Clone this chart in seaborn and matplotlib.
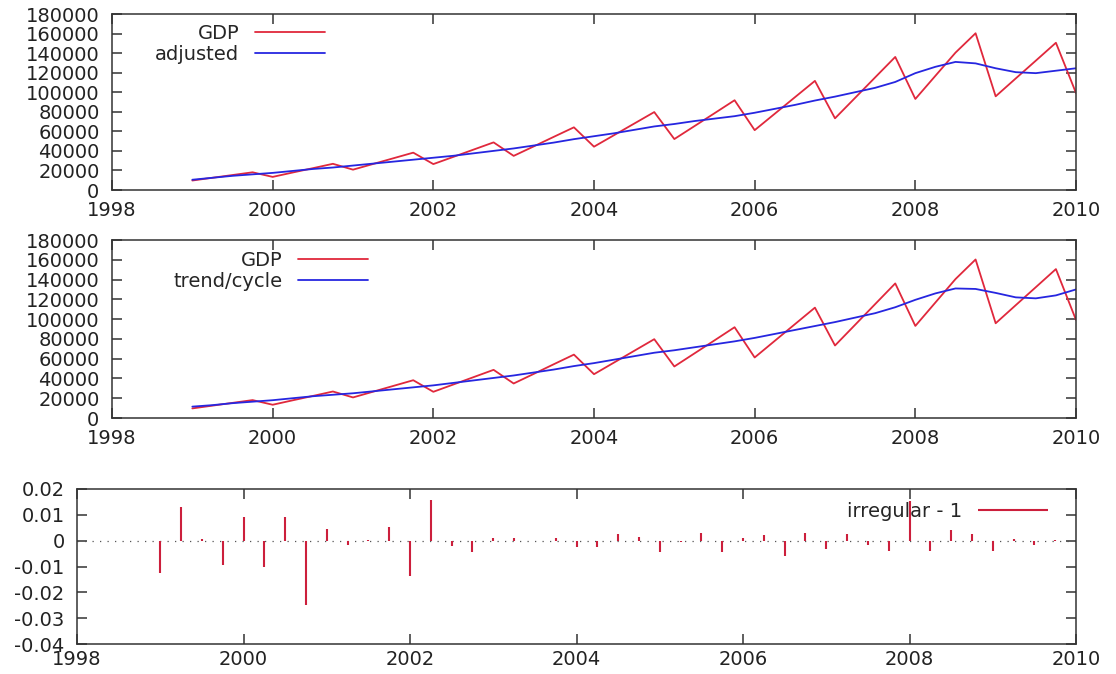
import numpy as np
import pandas as pd
import matplotlib
matplotlib.use("Agg")
import matplotlib.pyplot as plt
import seaborn as sns

# quarterly data, 1999Q1 .. 2010Q1
start_year = 1999

gdp = [9700, 12500, 15300, 18100,
       13400, 17900, 22300, 26800,
       20800, 26600, 32400, 38200,
       26500, 33900, 41300, 48700,
       34900, 44600, 54400, 64100,
       44300, 56100, 67900, 79700,
       52100, 65300, 78500, 91800,
       61200, 78000, 94800, 111600,
       73300, 94200, 115200, 136100,
       93100, 116800, 140500, 160300,
       95800, 114100, 132300, 150600,
       99200]

adjusted = [10500, 12500, 14500, 16000,
            17500, 19500, 21500, 23000,
            25000, 27000, 29000, 31000,
            33000, 35000, 37500, 40000,
            42500, 45500, 48500, 52000,
            55000, 58000, 61500, 65000,
            67500, 70500, 73000, 75500,
            79000, 83000, 87000, 91500,
            95500, 100000, 104500, 110500,
            119500, 126000, 131000, 129500,
            124500, 120500, 119500, 122000,
            124500]

trend = [11500, 13000, 15000, 16500,
         18000, 20000, 22000, 23500,
         25000, 27000, 29000, 31000,
         33000, 35500, 38000, 40500,
         43000, 46000, 49000, 52500,
         55500, 59000, 62500, 66000,
         68500, 71500, 74500, 77500,
         81000, 85000, 89000, 93000,
         97000, 101500, 106000, 112000,
         119500, 126000, 131000, 130500,
         126500, 122000, 121000, 124000,
         130000]

irregular = [-0.0125, 0.0129, 0.0006, -0.0093,
             0.0091, -0.0100, 0.0091, -0.0248,
             0.0047, -0.0016, 0.0003, 0.0052,
             -0.0136, 0.0157, -0.0021, -0.0043,
             0.0010, 0.0010, -0.0003, 0.0010,
             -0.0026, -0.0026, 0.0026, 0.0016,
             -0.0043, -0.0005, 0.0031, -0.0043,
             0.0009, 0.0022, -0.0058, 0.0031,
             -0.0034, 0.0026, -0.0018, -0.0040,
             0.0155, -0.0040, 0.0042, 0.0026,
             -0.0040, 0.0008, -0.0015, 0.0002,
             0.0000]

t = start_year + np.arange(len(gdp)) / 4.0
df = pd.DataFrame({"t": t, "GDP": gdp, "adjusted": adjusted,
                   "trend/cycle": trend, "irregular - 1": irregular})

sns.set_style("ticks")
plt.rcParams["font.family"] = ["DejaVu Sans"]
plt.rcParams["axes.unicode_minus"] = False

RED = "#e0283c"
BLUE = "#2626e0"
TICK_FS = 14
LEG_FS = 14

fig = plt.figure(figsize=(11.16, 6.74), dpi=100)
W, H = 1116, 674


def box(l, t_, r, b):
    return [l / W, 1 - b / H, (r - l) / W, (b - t_) / H]


ax1 = fig.add_axes(box(112, 14, 1076, 190))
ax2 = fig.add_axes(box(112, 240, 1076, 418))
ax3 = fig.add_axes(box(77, 489, 1076, 644))


def style(ax, xpad):
    for s in ax.spines.values():
        s.set_color("#333333")
        s.set_linewidth(1.1)
    ax.set_xlim(1998, 2010)
    ax.set_xticks(range(1998, 2011, 2))
    ax.tick_params(axis="both", direction="in", length=7, width=1.1,
                   color="#333333", top=True, right=True,
                   labelsize=TICK_FS, labelcolor="#222222")
    ax.tick_params(axis="x", pad=xpad)
    ax.tick_params(axis="y", pad=9)
    ax.set_xlabel("")
    ax.set_ylabel("")


for ax, second, anchor in [(ax1, "adjusted", (0.221, 0.943)),
                           (ax2, "trend/cycle", (0.266, 0.94))]:
    sns.lineplot(data=df, x="t", y="GDP", ax=ax, color=RED, lw=1.3, label="GDP")
    sns.lineplot(data=df, x="t", y=second, ax=ax, color=BLUE, lw=1.3, label=second)
    ax.set_ylim(0, 180000)
    ax.set_yticks(range(0, 180001, 20000))
    ax.set_yticklabels([str(v) for v in range(0, 180001, 20000)])
    style(ax, 8)
    ax.legend(loc="upper right", bbox_to_anchor=anchor, frameon=False,
              markerfirst=False, fontsize=LEG_FS, handlelength=3.6,
              handletextpad=0.8, borderpad=0, borderaxespad=0,
              labelspacing=0.1)

# irregular component as impulses
ax3.axhline(0, color="#555555", lw=0.9, ls=(0, (1, 5)))
ax3.vlines(df["t"], 0, df["irregular - 1"], color="#cc1f3c", lw=1.5,
           label="irregular - 1")
ax3.set_ylim(-0.04, 0.02)
yt = [-0.04, -0.03, -0.02, -0.01, 0, 0.01, 0.02]
ax3.set_yticks(yt)
ax3.set_yticklabels(["0" if v == 0 else f"{v:g}" for v in yt])
style(ax3, 4)
ax3.legend(loc="upper right", bbox_to_anchor=(0.972, 0.915), frameon=False,
           markerfirst=False, fontsize=LEG_FS, handlelength=3.6,
           handletextpad=0.8, borderpad=0, borderaxespad=0)

fig.savefig("out.png", dpi=100)
